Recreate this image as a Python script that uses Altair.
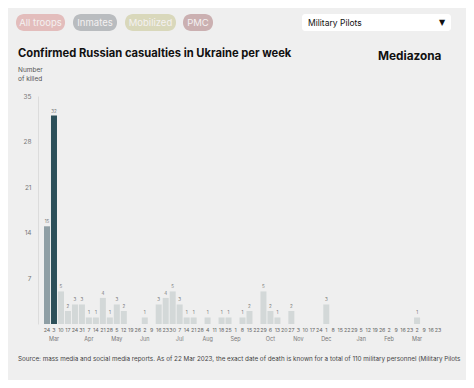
import altair as alt
import pandas as pd

weeks = ["2022-02-24", "2022-03-03", "2022-03-10", "2022-03-17", "2022-03-24", "2022-03-31",
         "2022-04-07", "2022-04-14", "2022-04-21", "2022-04-28", "2022-05-05", "2022-05-12",
         "2022-05-19", "2022-05-26", "2022-06-02", "2022-06-09", "2022-06-16", "2022-06-23",
         "2022-06-30", "2022-07-07", "2022-07-14", "2022-07-21", "2022-07-28", "2022-08-04",
         "2022-08-11", "2022-08-18", "2022-08-25", "2022-09-01", "2022-09-08", "2022-09-15",
         "2022-09-22", "2022-09-29", "2022-10-06", "2022-10-13", "2022-10-20", "2022-10-27",
         "2022-11-03", "2022-11-10", "2022-11-17", "2022-11-24", "2022-12-01", "2022-12-08",
         "2022-12-15", "2022-12-22", "2022-12-29", "2023-01-05", "2023-01-12", "2023-01-19",
         "2023-01-26", "2023-02-02", "2023-02-09", "2023-02-16", "2023-02-23", "2023-03-02",
         "2023-03-09", "2023-03-16", "2023-03-23"]
killed = [15, 32, 5, 2, 3, 3,
          1, 1, 4, 1, 3, 2,
          0, 0, 1, 0, 3, 4,
          5, 3, 1, 1, 0, 1,
          0, 1, 1, 0, 1, 2,
          0, 5, 2, 1, 0, 2,
          0, 0, 0, 0, 3, 0,
          0, 0, 0, 0, 0, 0,
          0, 0, 0, 0, 0, 1,
          0, 0, 0]
month_names = ["Jan", "Feb", "Mar", "Apr", "May", "Jun", "Jul", "Aug", "Sep", "Oct", "Nov", "Dec"]
y_ticks = [7, 14, 21, 28, 35]

days = [str(int(w[8:10])) for w in weeks]
months = []
prev = None
for w in weeks:
    m = int(w[5:7])
    months.append(month_names[m - 1] if m != prev else "")
    prev = m
months[0] = ""

df = pd.DataFrame({"week": weeks, "killed": killed, "day": days, "month": months})

W, H = 409, 228
L, T = 30, 88          # padding: plot origin at page (38, 96)
OX, OY = 38, 96
BG = "#efefef"
FONT = "Inter"

xscale = alt.Scale(paddingInner=0.14, paddingOuter=0.86)
x_enc = alt.X("week:N", sort=weeks, scale=xscale, axis=None)
y_scale = alt.Scale(domain=[0, 35])

base = alt.Chart(df)

bars = base.mark_bar().encode(
    x=x_enc,
    y=alt.Y("killed:Q", scale=y_scale,
            axis=alt.Axis(values=y_ticks, title=None, grid=False, ticks=False,
                          domainColor="#dcdcdc", domainWidth=1, labelColor="#777777",
                          labelFontSize=6.5, labelPadding=7, labelFont=FONT)),
    color={"condition": [{"test": "datum.week == '2022-03-03'", "value": "#2c4f59"},
                         {"test": "datum.week == '2022-02-24'", "value": "#8f9fa5"}],
           "value": "#d3d8d8"},
)

values = base.transform_filter("datum.killed > 0").mark_text(
    fontSize=4.5, color="#777777", dy=-4, font=FONT
).encode(x=x_enc, y=alt.Y("killed:Q", scale=y_scale), text="killed:Q")

day_labels = base.mark_text(fontSize=5.3, color="#666666", baseline="top", font=FONT).encode(
    x=x_enc, y=alt.value(H + 4), text="day:N")
month_labels = base.transform_filter("datum.month != ''").mark_text(
    fontSize=5.5, color="#777777", baseline="top", font=FONT).encode(
    x=x_enc, y=alt.value(H + 13), text="month:N")

one = pd.DataFrame({"a": [0]})
ob = alt.Chart(one)

def button(x0, x1, fill, label):
    r = ob.mark_rect(cornerRadius=8, fill=fill).encode(
        x=alt.value(x0 - OX), x2=alt.value(x1 - OX), y=alt.value(14 - OY), y2=alt.value(31 - OY))
    t = ob.mark_text(text=label, fontSize=9.5, color="#f4f1f1", font=FONT).encode(
        x=alt.value((x0 + x1) / 2 - OX), y=alt.value(22.5 - OY))
    return r + t

buttons = (button(16, 65, "#e3bdbc", "All troops") + button(73, 117, "#b9bcbf", "Inmates")
           + button(125, 176, "#d9d8bb", "Mobilized") + button(183, 213, "#cbb0b1", "PMC"))

dropdown = ob.mark_rect(cornerRadius=3, fill="white").encode(
    x=alt.value(302 - OX), x2=alt.value(451 - OX), y=alt.value(14 - OY), y2=alt.value(31 - OY))
dd_text = ob.mark_text(text="Military Pilots", fontSize=8.5, color="#111111", align="left", font=FONT).encode(
    x=alt.value(308 - OX), y=alt.value(22.5 - OY))
dd_arrow = ob.mark_text(text="▼", fontSize=8, color="#111111", font="DejaVu Sans").encode(
    x=alt.value(442 - OX), y=alt.value(22.5 - OY))

title = ob.mark_text(text="Confirmed Russian casualties in Ukraine per week", fontSize=11.2,
                     fontWeight="bold", color="#111111", align="left", font=FONT).encode(
    x=alt.value(18 - OX), y=alt.value(54 - OY))
brand = ob.mark_text(text="Mediazona", fontSize=11.8, fontWeight="bold", color="#111111",
                     align="left", font=FONT).encode(x=alt.value(378 - OX), y=alt.value(56 - OY))
ylab1 = ob.mark_text(text="Number", fontSize=6.5, color="#555555", align="left", font=FONT).encode(
    x=alt.value(18 - OX), y=alt.value(70 - OY))
ylab2 = ob.mark_text(text="of killed", fontSize=6.5, color="#555555", align="left", font=FONT).encode(
    x=alt.value(18 - OX), y=alt.value(79 - OY))
source = ob.mark_text(
    text="Source: mass media and social media reports. As of 22 Mar 2023, the exact date of death is known for a total of 110 military personnel (Military Pilots",
    fontSize=6.3, color="#444444", align="left", font=FONT).encode(
    x=alt.value(18 - OX), y=alt.value(359 - OY))

chart = alt.layer(
    bars, values, day_labels, month_labels, buttons, dropdown, dd_text, dd_arrow,
    title, brand, ylab1, ylab2, source
).properties(
    width=W, height=H, background=BG,
    autosize=alt.AutoSizeParams(type="none"),
    padding={"left": L, "top": T, "right": 458 - L - W, "bottom": 372 - T - H},
).configure_view(stroke=None)

chart.save("out.html", embed_options={"renderer": "svg", "actions": False})
